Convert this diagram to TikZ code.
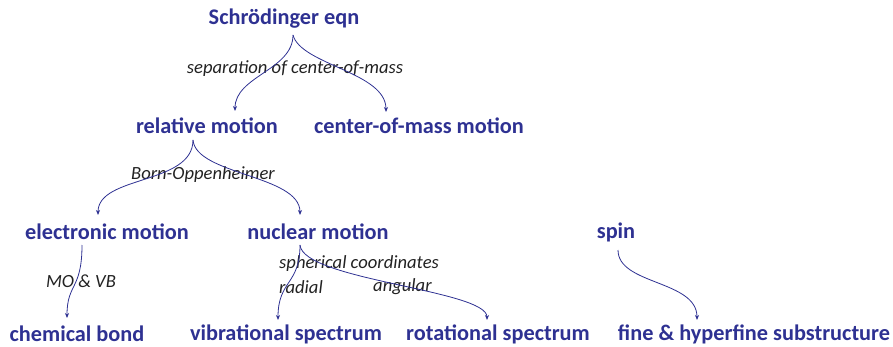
\documentclass[tikz,border=0pt]{standalone}
\usepackage{fontspec}
\setmainfont{Carlito}
\usetikzlibrary{arrows.meta,calc}
\definecolor{nblue}{HTML}{2E3192}
\definecolor{lgrey}{HTML}{222222}
\tikzset{
  term/.style={font=\fontsize{22.3}{24}\selectfont\bfseries, text=nblue, inner sep=0pt, anchor=center},
  lab/.style={font=\fontsize{18.6}{20}\selectfont\itshape, text=lgrey, inner sep=0pt},
  conn/.style={draw=nblue, line width=0.8pt, -{Stealth[length=5pt,width=4pt]}}
}
\begin{document}
\begin{tikzpicture}[x=1pt,y=-1pt]
\useasboundingbox (0,0) rectangle (893,347);
\node[term] (sch) at (284,19) {Schrödinger eqn};
\node[term] (rel) at (207,126) {relative motion};
\node[term] (com) at (419,126) {center-of-mass motion};
\node[term] (ele) at (107,232) {electronic motion};
\node[term] (nuc) at (318,232) {nuclear motion};
\node[term] (spin) at (616,232) {spin};
\node[term] (chem) at (77,334) {chemical bond};
\node[term] (vib) at (286,334) {vibrational spectrum};
\node[term] (rot) at (498,334) {rotational spectrum};
\node[term] (fine) at (754,334) {fine \& hyperfine substructure};

\node[lab] (lsep) at (295,69) {separation of center-of-mass};
\node[lab] (lbo) at (203,175) {Born-Oppenheimer};
\node[lab] (lmo) at (81,281) {MO \& VB};
\node[lab, anchor=west] (lsph) at (279,264) {spherical coordinates};
\node[lab, anchor=west] (lrad) at (279,287) {radial};
\node[lab, anchor=west] (lang) at (373,287) {angular};

\coordinate (s0) at ($(sch.center)+(9,16)$);
\coordinate (r0) at ($(rel.center)+(-14,14)$);
\coordinate (e0) at ($(ele.center)+(-25,13)$);
\coordinate (n0) at ($(nuc.center)+(-18,13)$);
\coordinate (sp0) at ($(spin.center)+(2,18)$);
\coordinate (t1) at ($(rel.center)+(28,-15)$);
\coordinate (t2) at ($(com.center)+(-33,-14)$);
\coordinate (t3) at ($(ele.center)+(-9,-17)$);
\coordinate (t4) at ($(nuc.center)+(-18,-17)$);
\coordinate (t5) at ($(chem.center)+(-10,-16)$);
\coordinate (t6) at ($(vib.center)+(-8,-14)$);
\coordinate (t7) at ($(rot.center)+(-11,-14)$);
\coordinate (t8) at ($(fine.center)+(-57,-14)$);

\draw[conn] (s0) .. controls ($(s0)+(0,35)$) and ($(t1)+(0,-35)$) .. (t1);
\draw[conn] (s0) .. controls ($(s0)+(8,30)$) and ($(t2)+(0,-40)$) .. (t2);
\draw[conn] (r0) .. controls ($(r0)+(0,45)$) and ($(t3)+(0,-40)$) .. (t3);
\draw[conn] (r0) .. controls ($(r0)+(3,35)$) and ($(t4)+(0,-40)$) .. (t4);
\draw[conn] (e0) .. controls ($(e0)+(0,45)$) and ($(t5)+(0,-35)$) .. (t5);
\draw[conn] (n0) .. controls ($(n0)+(0,40)$) and ($(t6)+(0,-40)$) .. (t6);
\draw[conn] (n0) .. controls ($(n0)+(3,35)$) and ($(t7)+(0,-30)$) .. (t7);
\draw[conn] (sp0) .. controls ($(sp0)+(0,35)$) and ($(t8)+(0,-40)$) .. (t8);
\end{tikzpicture}
\end{document}
